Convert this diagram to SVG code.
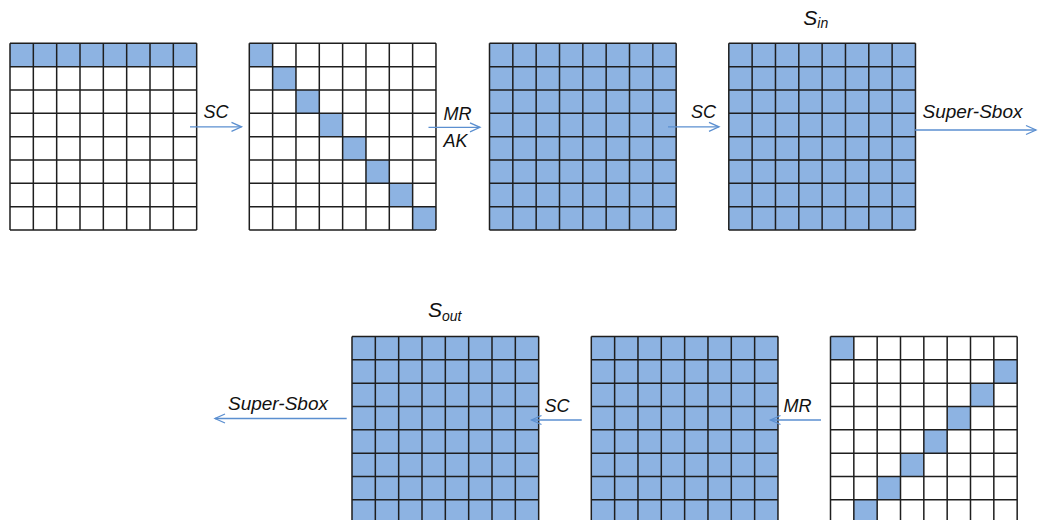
<svg xmlns="http://www.w3.org/2000/svg" xmlns:xlink="http://www.w3.org/1999/xlink" width="1038" height="520" viewBox="0 0 1038 520">
<style>
.lbl{font-family:"Liberation Sans",Arial,sans-serif;font-style:italic;font-size:18px;fill:#111}
.big{font-family:"Liberation Sans",Arial,sans-serif;font-style:italic;font-size:21px;fill:#111}
.sub{font-size:14px}
.conn{stroke:#5b8fd0;stroke-width:1.3;fill:none;marker-end:url(#ah)}
.blue{fill:#8db3e2}
.white{fill:#ffffff}
.gl{fill:none;stroke:#1e1e1e;stroke-width:1.5}
</style>
<defs>
<marker id="ah" markerUnits="userSpaceOnUse" markerWidth="14" markerHeight="14" refX="11" refY="6" orient="auto">
<path d="M1,1.5 L11,6 L1,10.5" fill="none" stroke="#5b8fd0" stroke-width="1.3"/>
</marker>
<path id="lines" class="gl" d="M0,0V186.67M23.33,0V186.67M46.67,0V186.67M70,0V186.67M93.33,0V186.67M116.67,0V186.67M140,0V186.67M163.33,0V186.67M186.67,0V186.67M0,0H186.67M0,23.33H186.67M0,46.67H186.67M0,70H186.67M0,93.33H186.67M0,116.67H186.67M0,140H186.67M0,163.33H186.67M0,186.67H186.67"/>
</defs>
<rect width="1038" height="520" fill="#ffffff"/>

<g id="grid1" transform="translate(10,43.3)">
<rect class="white" width="186.67" height="186.67"/>
<rect class="blue" width="186.67" height="23.33"/>
<use xlink:href="#lines" href="#lines"/>
</g>

<g id="grid2" transform="translate(249.3,43.3)">
<rect class="white" width="186.67" height="186.67"/>
<rect class="blue" x="0" y="0" width="23.33" height="23.33"/>
<rect class="blue" x="23.33" y="23.33" width="23.33" height="23.33"/>
<rect class="blue" x="46.67" y="46.67" width="23.33" height="23.33"/>
<rect class="blue" x="70" y="70" width="23.33" height="23.33"/>
<rect class="blue" x="93.33" y="93.33" width="23.33" height="23.33"/>
<rect class="blue" x="116.67" y="116.67" width="23.33" height="23.33"/>
<rect class="blue" x="140" y="140" width="23.33" height="23.33"/>
<rect class="blue" x="163.33" y="163.33" width="23.33" height="23.33"/>
<use xlink:href="#lines" href="#lines"/>
</g>

<g id="grid3" transform="translate(489.5,43.3)">
<rect class="blue" width="186.67" height="186.67"/>
<use xlink:href="#lines" href="#lines"/>
</g>

<g id="grid4" transform="translate(728.8,43.3)">
<rect class="blue" width="186.67" height="186.67"/>
<use xlink:href="#lines" href="#lines"/>
<text class="big" x="74.5" y="-18.5">S<tspan class="sub" dy="3">in</tspan></text>
</g>

<g id="grid5" transform="translate(352,336.5)">
<rect class="blue" width="186.67" height="186.67"/>
<use xlink:href="#lines" href="#lines"/>
<text class="big" x="76" y="-19.5">S<tspan class="sub" dy="4">out</tspan></text>
</g>

<g id="grid6" transform="translate(591.3,336.5)">
<rect class="blue" width="186.67" height="186.67"/>
<use xlink:href="#lines" href="#lines"/>
</g>

<g id="grid7" transform="translate(830.5,336.5)">
<rect class="white" width="186.67" height="186.67"/>
<rect class="blue" x="0" y="0" width="23.33" height="23.33"/>
<rect class="blue" x="163.33" y="23.33" width="23.33" height="23.33"/>
<rect class="blue" x="140" y="46.67" width="23.33" height="23.33"/>
<rect class="blue" x="116.67" y="70" width="23.33" height="23.33"/>
<rect class="blue" x="93.33" y="93.33" width="23.33" height="23.33"/>
<rect class="blue" x="70" y="116.67" width="23.33" height="23.33"/>
<rect class="blue" x="46.67" y="140" width="23.33" height="23.33"/>
<rect class="blue" x="23.33" y="163.33" width="23.33" height="23.33"/>
<use xlink:href="#lines" href="#lines"/>
</g>

<g id="connectors">
<line class="conn" x1="190" y1="126.8" x2="241.5" y2="126.8"/>
<line class="conn" x1="428.5" y1="127.3" x2="480" y2="127.3"/>
<line class="conn" x1="668" y1="126.8" x2="719" y2="126.8"/>
<line class="conn" x1="915" y1="130" x2="1036" y2="130"/>
<line class="conn" x1="346.7" y1="418.5" x2="215" y2="418.5"/>
<line class="conn" x1="581.7" y1="420" x2="531.5" y2="420"/>
<line class="conn" x1="821" y1="420" x2="770.5" y2="420"/>
</g>

<g id="labels">
<text class="lbl" x="203.5" y="118.3">SC</text>
<text class="lbl" x="443.5" y="119.5">MR</text>
<text class="lbl" x="443.5" y="146.7">AK</text>
<text class="lbl" x="691" y="118.3">SC</text>
<text class="lbl" x="922.5" y="118.3" textLength="100" lengthAdjust="spacingAndGlyphs">Super-Sbox</text>
<text class="lbl" x="228" y="410" textLength="100" lengthAdjust="spacingAndGlyphs">Super-Sbox</text>
<text class="lbl" x="544.5" y="411.5">SC</text>
<text class="lbl" x="783.5" y="411.7">MR</text>
</g>
</svg>
